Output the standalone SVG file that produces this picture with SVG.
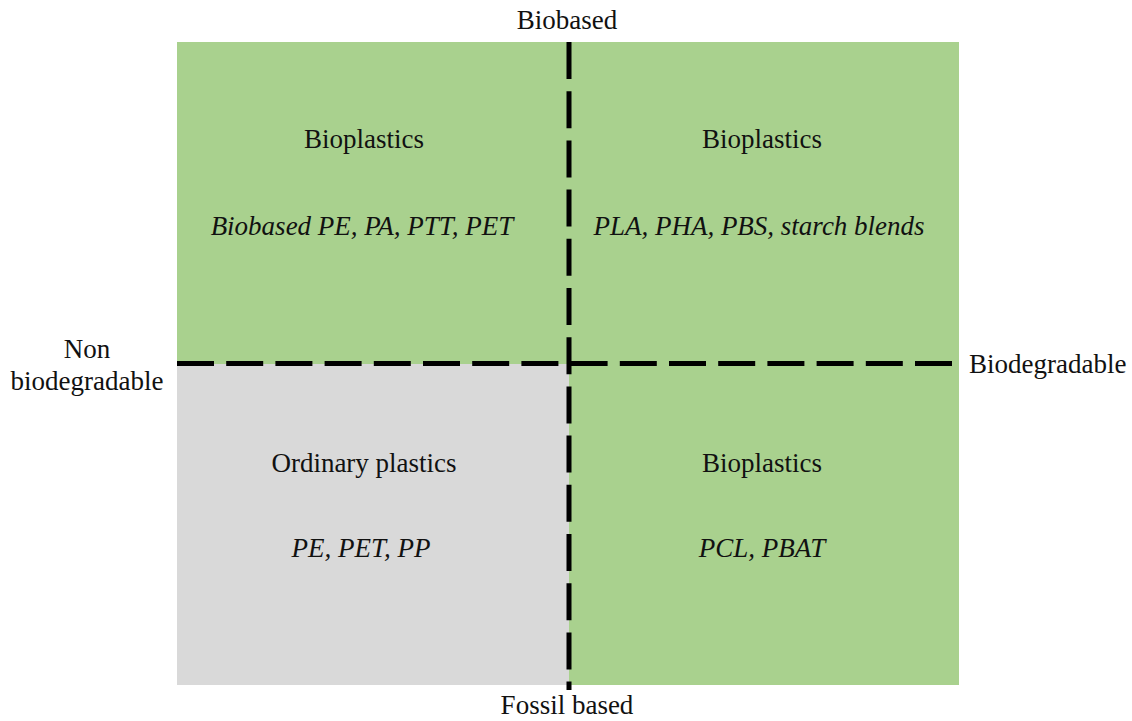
<svg xmlns="http://www.w3.org/2000/svg" width="1132" height="721" viewBox="0 0 1132 721">
<style>
text{font-family:"Liberation Serif","Times New Roman",serif;font-size:27px;fill:#111}
.c{text-anchor:middle}
.i{font-style:italic}
.dash{stroke:#000;stroke-width:5;fill:none;stroke-dasharray:37 12.2}
</style>
<rect width="1132" height="721" fill="#fff"/>
<g id="q-top-left">
<rect x="177" y="42" width="392" height="322" fill="#A9D18E"/>
<text class="c" x="364" y="148">Bioplastics</text>
<text class="c i" x="362" y="235">Biobased PE, PA, PTT, PET</text>
</g>
<g id="q-top-right">
<rect x="569" y="42" width="390" height="322" fill="#A9D18E"/>
<text class="c" x="762" y="148">Bioplastics</text>
<text class="c i" x="759" y="235">PLA, PHA, PBS, starch blends</text>
</g>
<g id="q-bottom-left">
<rect x="177" y="364" width="392" height="321" fill="#D9D9D9"/>
<text class="c" x="364" y="472">Ordinary plastics</text>
<text class="c i" x="361" y="557">PE, PET, PP</text>
</g>
<g id="q-bottom-right">
<rect x="569" y="364" width="390" height="321" fill="#A9D18E"/>
<text class="c" x="762" y="472">Bioplastics</text>
<text class="c i" x="762" y="557">PCL, PBAT</text>
</g>
<g id="connectors">
<line class="dash" x1="569" y1="42" x2="569" y2="690"/>
<line class="dash" x1="177" y1="363.5" x2="952" y2="363.5"/>
</g>
<g id="axis-labels">
<text class="c" x="567" y="29">Biobased</text>
<text class="c" x="567" y="714">Fossil based</text>
<text class="c" x="87" y="358">Non</text>
<text class="c" x="87" y="390">biodegradable</text>
<text x="969" y="373">Biodegradable</text>
</g>
</svg>
